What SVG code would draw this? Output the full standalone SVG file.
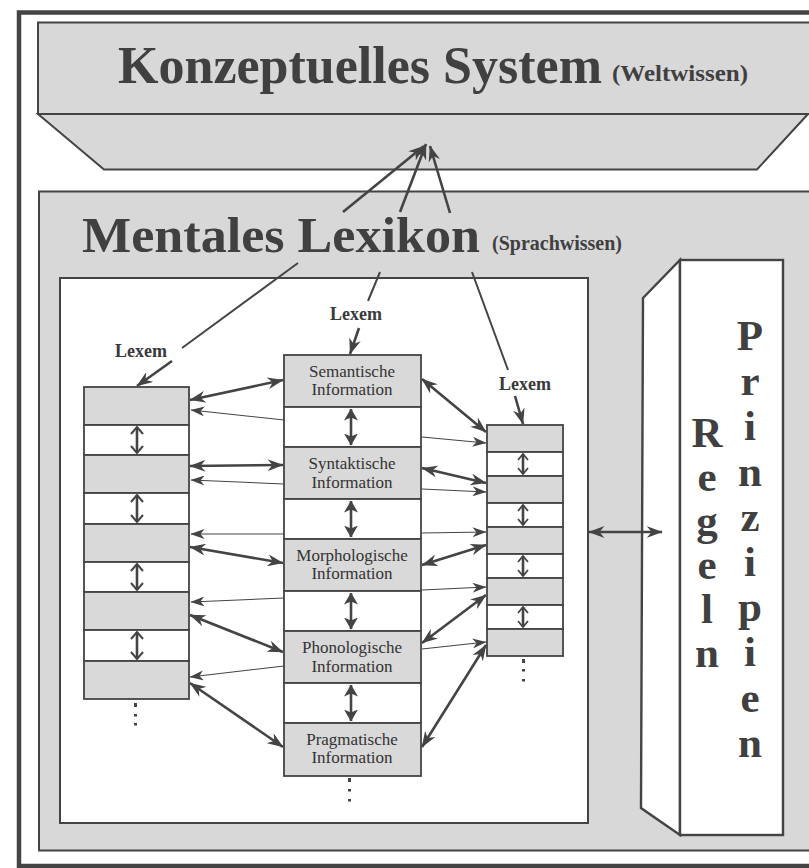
<svg xmlns="http://www.w3.org/2000/svg" width="809" height="868" viewBox="0 0 809 868">
  <style>
    .ink { stroke: #444; fill: none; }
    .g { fill: #d9d9d9; stroke: #444; stroke-width: 1.8; }
    .w { fill: #ffffff; stroke: #444; stroke-width: 1.8; }
    .thick { stroke: #444; stroke-width: 2.6; fill: none; }
    .thin { stroke: #444; stroke-width: 1.1; fill: none; }
    .title { font-family: "Liberation Serif", "Times New Roman", serif; font-weight: bold; fill: #404040; }
    .cell { font-family: "Liberation Serif", "Times New Roman", serif; font-size: 17px; fill: #333; text-anchor: middle; }
    .lex { font-family: "Liberation Serif", "Times New Roman", serif; font-weight: bold; font-size: 18px; fill: #3a3a3a; text-anchor: middle; }
    .big { font-family: "Liberation Serif", "Times New Roman", serif; font-weight: bold; font-size: 43px; fill: #404040; text-anchor: middle; }
    .dot { fill: #444; }
  </style>
  <defs>
    <marker id="head" viewBox="0 0 16 12" refX="15.5" refY="6" markerWidth="16" markerHeight="12" markerUnits="userSpaceOnUse" orient="auto-start-reverse">
      <path d="M0,0 L16,6 L0,12 L5,6 z" fill="#444"/>
    </marker>
    <marker id="headThin" viewBox="0 0 14 10" refX="13.5" refY="5" markerWidth="14" markerHeight="10" markerUnits="userSpaceOnUse" orient="auto-start-reverse">
      <path d="M0,0 L14,5 L0,10 L4,5 z" fill="#444"/>
    </marker>
    <marker id="headV" viewBox="0 0 12 14" refX="11.5" refY="7" markerWidth="12" markerHeight="14" markerUnits="userSpaceOnUse" orient="auto-start-reverse">
      <path d="M0,0 L12,7 L0,14 L3,7 z" fill="#444"/>
    </marker>
    <marker id="chev" viewBox="0 0 9 14" refX="8" refY="7" markerWidth="9" markerHeight="14" markerUnits="userSpaceOnUse" orient="auto-start-reverse">
      <path d="M1,1 L8,7 L1,13" fill="none" stroke="#444" stroke-width="2"/>
    </marker>
    <marker id="chevS" viewBox="0 0 8 12" refX="7" refY="6" markerWidth="8" markerHeight="12" markerUnits="userSpaceOnUse" orient="auto-start-reverse">
      <path d="M1,1 L7,6 L1,11" fill="none" stroke="#444" stroke-width="1.8"/>
    </marker>
  </defs>

  <!-- outer frame -->
  <rect x="19" y="12.5" width="810" height="853.5" fill="#ffffff" stroke="#444" stroke-width="4.5"/>

  <!-- conceptual system block -->
  <g id="konzeptuelles-system">
    <rect x="38" y="22.5" width="780" height="91.5" fill="#d8d8d8" stroke="#444" stroke-width="2"/>
    <polygon points="38,114 808,114 757,169.5 104,169.5" fill="#d8d8d8" stroke="#444" stroke-width="2"/>
    <text class="title" x="118" y="83" font-size="52" textLength="484" lengthAdjust="spacingAndGlyphs">Konzeptuelles System</text>
    <text class="title" x="612" y="81" font-size="24" textLength="136" lengthAdjust="spacingAndGlyphs">(Weltwissen)</text>
  </g>

  <!-- mental lexicon block -->
  <g id="mentales-lexikon">
    <rect x="39" y="191.5" width="780" height="659" fill="#d8d8d8" stroke="#444" stroke-width="2"/>
    <text class="title" x="82" y="252" font-size="51" textLength="398" lengthAdjust="spacingAndGlyphs">Mentales Lexikon</text>
    <text class="title" x="492" y="250" font-size="20" textLength="130" lengthAdjust="spacingAndGlyphs">(Sprachwissen)</text>
    <rect x="60" y="278" width="528" height="545" fill="#ffffff" stroke="#444" stroke-width="2"/>
  </g>

  <!-- rules and principles pillar -->
  <g id="regeln-prinzipien">
    <polygon points="643,298 680,260 680,835 641,808" fill="#ffffff" stroke="#444" stroke-width="2.4"/>
    <rect x="680" y="260" width="103" height="575" fill="#ffffff" stroke="#444" stroke-width="2.4"/>
    <text class="big" x="707" y="447">R</text>
    <text class="big" x="707" y="491">e</text>
    <text class="big" x="707" y="535">g</text>
    <text class="big" x="707" y="579">e</text>
    <text class="big" x="707" y="623">l</text>
    <text class="big" x="707" y="667">n</text>
    <text class="big" x="750" y="350">P</text>
    <text class="big" x="750" y="395">r</text>
    <text class="big" x="750" y="440">i</text>
    <text class="big" x="750" y="486">n</text>
    <text class="big" x="750" y="531">z</text>
    <text class="big" x="750" y="576">i</text>
    <text class="big" x="750" y="621">p</text>
    <text class="big" x="750" y="666">i</text>
    <text class="big" x="750" y="712">e</text>
    <text class="big" x="750" y="757">n</text>
  </g>

  <!-- left lexeme stack -->
  <g id="lexem-links">
    <rect class="g" x="84" y="387" width="105" height="38"/>
    <rect class="w" x="84" y="425" width="105" height="30"/>
    <rect class="g" x="84" y="455" width="105" height="38"/>
    <rect class="w" x="84" y="493" width="105" height="31"/>
    <rect class="g" x="84" y="524" width="105" height="38"/>
    <rect class="w" x="84" y="562" width="105" height="30"/>
    <rect class="g" x="84" y="592" width="105" height="38"/>
    <rect class="w" x="84" y="630" width="105" height="31"/>
    <rect class="g" x="84" y="661" width="105" height="38"/>
    <text class="lex" x="141" y="357">Lexem</text>
    <rect class="dot" x="134" y="703" width="3" height="4"/>
    <rect class="dot" x="134" y="714" width="3" height="2.5"/>
    <rect class="dot" x="134" y="723" width="3" height="2.5"/>
  </g>

  <!-- central lexeme stack -->
  <g id="lexem-mitte">
    <rect class="g" x="284" y="355" width="137" height="52"/>
    <rect class="w" x="284" y="407" width="137" height="40"/>
    <rect class="g" x="284" y="447" width="137" height="52"/>
    <rect class="w" x="284" y="499" width="137" height="40"/>
    <rect class="g" x="284" y="539" width="137" height="52"/>
    <rect class="w" x="284" y="591" width="137" height="40"/>
    <rect class="g" x="284" y="631" width="137" height="52"/>
    <rect class="w" x="284" y="683" width="137" height="40"/>
    <rect class="g" x="284" y="723" width="137" height="53"/>
    <text class="cell" x="352" y="377">Semantische</text>
    <text class="cell" x="352" y="395">Information</text>
    <text class="cell" x="352" y="469">Syntaktische</text>
    <text class="cell" x="352" y="488">Information</text>
    <text class="cell" x="352" y="561">Morphologische</text>
    <text class="cell" x="352" y="579">Information</text>
    <text class="cell" x="352" y="653">Phonologische</text>
    <text class="cell" x="352" y="672">Information</text>
    <text class="cell" x="352" y="745">Pragmatische</text>
    <text class="cell" x="352" y="763">Information</text>
    <text class="lex" x="356" y="320">Lexem</text>
    <rect class="dot" x="348" y="778" width="3" height="4"/>
    <rect class="dot" x="348" y="789" width="3" height="2.5"/>
    <rect class="dot" x="348" y="799" width="3" height="2.5"/>
  </g>

  <!-- right lexeme stack -->
  <g id="lexem-rechts">
    <rect class="g" x="487" y="425" width="76" height="27"/>
    <rect class="w" x="487" y="452" width="76" height="24"/>
    <rect class="g" x="487" y="476" width="76" height="27"/>
    <rect class="w" x="487" y="503" width="76" height="24"/>
    <rect class="g" x="487" y="527" width="76" height="27"/>
    <rect class="w" x="487" y="554" width="76" height="24"/>
    <rect class="g" x="487" y="578" width="76" height="27"/>
    <rect class="w" x="487" y="605" width="76" height="24"/>
    <rect class="g" x="487" y="629" width="76" height="27"/>
    <text class="lex" x="525" y="390">Lexem</text>
    <rect class="dot" x="522" y="659" width="3" height="4"/>
    <rect class="dot" x="522" y="669" width="3" height="2.5"/>
    <rect class="dot" x="522" y="679" width="3" height="2.5"/>
  </g>

  <!-- connectors -->
  <g id="connectors">
    <!-- lexicon to conceptual system -->
    <line class="thick" x1="343" y1="212" x2="424" y2="146" marker-end="url(#head)"/>
    <line class="thick" x1="400" y1="212" x2="426" y2="144" marker-end="url(#head)"/>
    <line class="thick" x1="450" y1="213" x2="430" y2="146" marker-end="url(#head)"/>

    <!-- lexicon to lexeme entries -->
    <line class="ink" stroke-width="2" x1="298" y1="263" x2="182" y2="348"/>
    <line class="thick" x1="172" y1="361" x2="137" y2="386" marker-end="url(#head)"/>
    <line class="ink" stroke-width="2" x1="380" y1="272" x2="368" y2="301"/>
    <line class="thick" x1="359" y1="328" x2="350" y2="354" marker-end="url(#head)"/>
    <line class="ink" stroke-width="2" x1="472" y1="272" x2="508" y2="370"/>
    <line class="thick" x1="515" y1="396" x2="523" y2="424" marker-end="url(#head)"/>

    <!-- links within stacks -->
    <line class="thick" stroke-width="2.2" x1="137" y1="427" x2="137" y2="453" marker-start="url(#chev)" marker-end="url(#chev)"/>
    <line class="thick" stroke-width="2.2" x1="137" y1="495" x2="137" y2="522" marker-start="url(#chev)" marker-end="url(#chev)"/>
    <line class="thick" stroke-width="2.2" x1="137" y1="564" x2="137" y2="590" marker-start="url(#chev)" marker-end="url(#chev)"/>
    <line class="thick" stroke-width="2.2" x1="137" y1="632" x2="137" y2="659" marker-start="url(#chev)" marker-end="url(#chev)"/>

    <line class="thick" stroke-width="3" x1="351" y1="409" x2="351" y2="445" marker-start="url(#headV)" marker-end="url(#headV)"/>
    <line class="thick" stroke-width="3" x1="351" y1="501" x2="351" y2="537" marker-start="url(#headV)" marker-end="url(#headV)"/>
    <line class="thick" stroke-width="3" x1="351" y1="593" x2="351" y2="629" marker-start="url(#headV)" marker-end="url(#headV)"/>
    <line class="thick" stroke-width="3" x1="351" y1="685" x2="351" y2="721" marker-start="url(#headV)" marker-end="url(#headV)"/>

    <line class="thick" stroke-width="1.6" x1="523" y1="454" x2="523" y2="474" marker-start="url(#chevS)" marker-end="url(#chevS)"/>
    <line class="thick" stroke-width="1.6" x1="523" y1="505" x2="523" y2="525" marker-start="url(#chevS)" marker-end="url(#chevS)"/>
    <line class="thick" stroke-width="1.6" x1="523" y1="556" x2="523" y2="576" marker-start="url(#chevS)" marker-end="url(#chevS)"/>
    <line class="thick" stroke-width="1.6" x1="523" y1="607" x2="523" y2="627" marker-start="url(#chevS)" marker-end="url(#chevS)"/>

    <!-- left stack and central stack -->
    <line class="thick" x1="190" y1="400" x2="283" y2="380" marker-start="url(#head)" marker-end="url(#head)"/>
    <line class="thick" x1="190" y1="466" x2="283" y2="465" marker-start="url(#head)" marker-end="url(#head)"/>
    <line class="thick" x1="190" y1="547" x2="283" y2="563" marker-start="url(#head)" marker-end="url(#head)"/>
    <line class="thick" x1="190" y1="615" x2="283" y2="652" marker-start="url(#head)" marker-end="url(#head)"/>
    <line class="thick" x1="190" y1="683" x2="283" y2="747" marker-start="url(#head)" marker-end="url(#head)"/>
    <line class="thin" x1="284" y1="420" x2="191" y2="410" marker-end="url(#headThin)"/>
    <line class="thin" x1="284" y1="484" x2="191" y2="480" marker-end="url(#headThin)"/>
    <line class="thin" x1="284" y1="534" x2="191" y2="534" marker-end="url(#headThin)"/>
    <line class="thin" x1="284" y1="598" x2="191" y2="602" marker-end="url(#headThin)"/>
    <line class="thin" x1="284" y1="666" x2="190" y2="677" marker-end="url(#headThin)"/>

    <!-- central stack and right stack -->
    <line class="thick" x1="422" y1="379" x2="486" y2="432" marker-start="url(#head)" marker-end="url(#head)"/>
    <line class="thick" x1="422" y1="468" x2="486" y2="483" marker-start="url(#head)" marker-end="url(#head)"/>
    <line class="thick" x1="422" y1="565" x2="486" y2="545" marker-start="url(#head)" marker-end="url(#head)"/>
    <line class="thick" x1="422" y1="643" x2="486" y2="595" marker-start="url(#head)" marker-end="url(#head)"/>
    <line class="thick" x1="422" y1="747" x2="486" y2="645" marker-start="url(#head)" marker-end="url(#head)"/>
    <line class="thin" x1="422" y1="437" x2="486" y2="443" marker-end="url(#headThin)"/>
    <line class="thin" x1="422" y1="489" x2="486" y2="492" marker-end="url(#headThin)"/>
    <line class="thin" x1="422" y1="533" x2="486" y2="532" marker-end="url(#headThin)"/>
    <line class="thin" x1="422" y1="590" x2="486" y2="587" marker-end="url(#headThin)"/>
    <line class="thin" x1="422" y1="649" x2="486" y2="642" marker-end="url(#headThin)"/>

    <!-- lexicon and rules -->
    <line class="thick" stroke-width="3" x1="589" y1="532" x2="662" y2="532" marker-start="url(#head)" marker-end="url(#head)"/>
  </g>
</svg>
